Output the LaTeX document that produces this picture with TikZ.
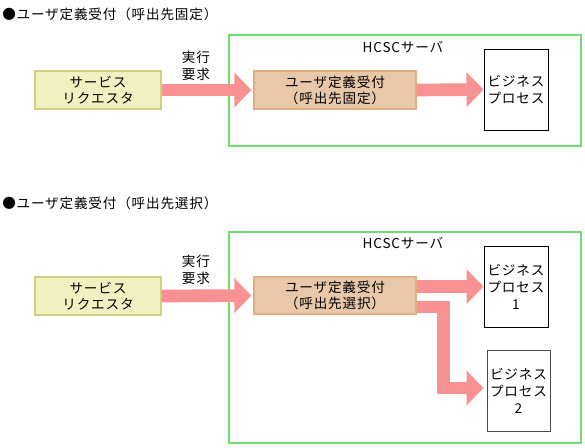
\documentclass[tikz,border=0pt]{standalone}
\usepackage{fontspec}
\setmainfont{Noto Sans CJK JP}[LetterSpace=6]
\usetikzlibrary{arrows.meta,calc}
\definecolor{srvgreen}{RGB}{110,222,110}
\definecolor{arrpink}{RGB}{248,146,146}
\definecolor{yfill}{RGB}{240,240,192}
\definecolor{ydraw}{RGB}{208,208,128}
\definecolor{tfill}{RGB}{232,200,168}
\definecolor{tdraw}{RGB}{222,176,130}
\tikzset{
  every node/.style={font=\fontsize{10.2pt}{12pt}\selectfont, inner sep=0pt},
  reqbox/.style={draw=ydraw, fill=yfill, line width=1pt, minimum width=94.5pt, minimum height=28.5pt, align=center},
  udbox/.style={draw=tdraw, fill=tfill, line width=1pt, minimum width=121.5pt, minimum height=28.5pt, align=center},
  bpbox/.style={draw=black, fill=white, line width=0.75pt, minimum width=48pt, minimum height=60.75pt, align=center, font=\fontsize{10.2pt}{12.75pt}\selectfont},
  srvbox/.style={draw=srvgreen, line width=1.6pt, minimum width=264pt},
  fatarrow/.style={draw=arrpink, line width=9.5pt, line join=miter, -{Triangle[length=12.75pt, width=25.5pt]}},
  lbl/.style={align=center, font=\fontsize{10.2pt}{12.75pt}\selectfont}
}
\begin{document}
\begin{tikzpicture}[x=0.75pt, y=-0.75pt]
\useasboundingbox (0,0) rectangle (585,447);
% ---------- top section ----------
\node[anchor=west] (t1) at (2,14) {●ユーザ定義受付（呼出先固定）};
\node[srvbox, minimum height=83.25pt] (g1) at (405,90.5) {};
\node (h1) at (403,47) {HCSCサーバ};
\node[reqbox] (sr1) at (98,90) {サービス\\リクエスタ};
\node[udbox] (ud1) at (335,90) {ユーザ定義受付\\（呼出先固定）};
\node[bpbox] (bp1) at (516,89.5) {ビジネス\\プロセス};
\node[lbl] (l1) at (196,66) {実行\\要求};
\draw[fatarrow] (sr1.east) -- ($(ud1.west)+(-2,0)$);
\draw[fatarrow] (ud1.east) -- (bp1.west);
% ---------- bottom section ----------
\node[anchor=west] (t2) at (2,203) {●ユーザ定義受付（呼出先選択）};
\node[srvbox, minimum height=158.25pt] (g2) at (405,337.5) {};
\node (h2) at (403,243) {HCSCサーバ};
\node[reqbox] (sr2) at (98,296) {サービス\\リクエスタ};
\node[udbox, minimum height=27.75pt] (ud2) at (335,295.5) {ユーザ定義受付\\（呼出先選択）};
\node[bpbox] (bp2) at (516,286.5) {ビジネス\\プロセス\\1};
\node[bpbox, draw=black!70, minimum width=47.25pt] (bp3) at (518.5,390.5) {ビジネス\\プロセス\\2};
\node[lbl] (l2) at (196,270) {実行\\要求};
\draw[fatarrow] (sr2.east) -- ($(ud2.west)+(-2,0)$);
\draw[fatarrow] (ud2.east |- bp2.west) -- (bp2.west);
\coordinate (e1) at ($(ud2.east)+(0,11.5)$);
\coordinate (e2) at ($(bp3.west)+(-3,-2.5)$);
\draw[fatarrow] (e1) -- (e1 -| 443.5,0) -- (443.5,0 |- e2) -- (e2);
\end{tikzpicture}
\end{document}
